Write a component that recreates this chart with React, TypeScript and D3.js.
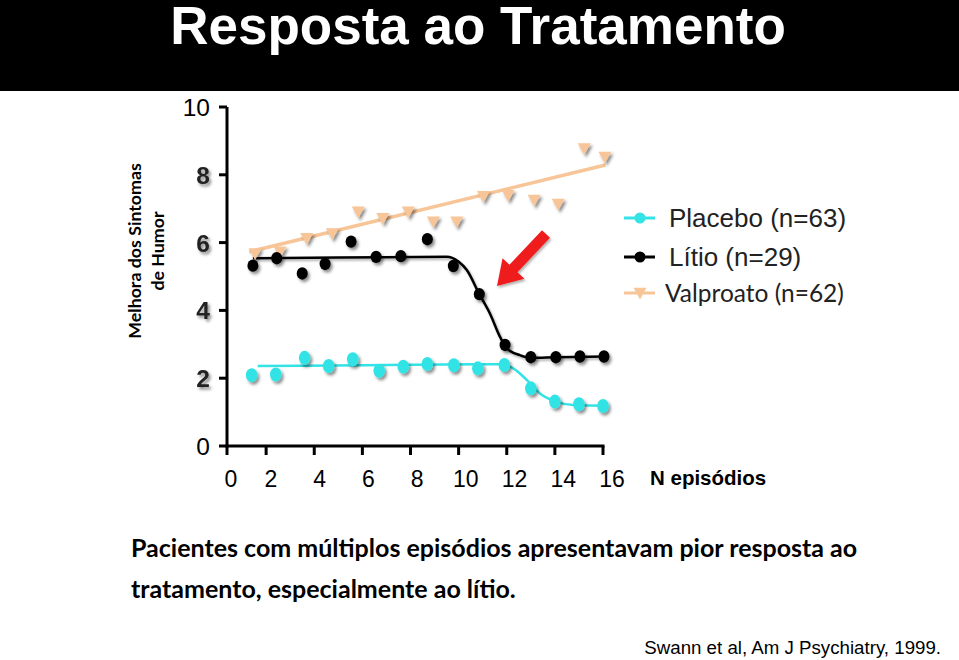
import React from 'react';
import * as d3 from 'd3';

const xTicks = [0, 2, 4, 6, 8, 10, 12, 14, 16];
const yTicks = [0, 2, 4, 6, 8, 10];
const boldYTicks = [2, 4, 6, 8];

const placeboX = [1.4, 2.4, 3.6, 4.6, 5.6, 6.7, 7.7, 8.7, 9.8, 10.8, 11.9, 13.0, 14.0, 15.0, 16.0];
const placeboY = [2.09, 2.11, 2.6, 2.36, 2.56, 2.22, 2.34, 2.42, 2.38, 2.29, 2.39, 1.7, 1.31, 1.23, 1.18];
const lithiumX = [1.45, 2.44, 3.5, 4.45, 5.53, 6.57, 7.6, 8.7, 9.78, 10.86, 11.93, 13.0, 14.04, 15.04, 16.04];
const lithiumY = [5.32, 5.54, 5.09, 5.37, 6.03, 5.58, 5.6, 6.1, 5.31, 4.48, 2.98, 2.62, 2.62, 2.64, 2.64];
const valproateX = [1.54, 2.58, 3.69, 4.75, 5.83, 6.85, 7.91, 8.95, 9.92, 11.03, 12.06, 13.14, 14.14, 15.22, 16.08];
const valproateY = [5.68, 5.73, 6.13, 6.27, 6.91, 6.72, 6.91, 6.62, 6.62, 7.37, 7.4, 7.26, 7.14, 8.78, 8.53];

const placeboFitX = [1.65, 6, 11.0, 11.72, 12.27, 12.83, 13.38, 14.04, 14.77, 16.15];
const placeboFitY = [2.36, 2.38, 2.41, 2.41, 2.29, 1.95, 1.55, 1.31, 1.21, 1.19];
const lithiumFitX = [1.45, 5, 9.5, 9.99, 10.34, 10.86, 11.3, 11.72, 12.0, 12.55, 13.0, 14.04, 16.04];
const lithiumFitY = [5.54, 5.56, 5.58, 5.44, 5.19, 4.48, 3.91, 3.22, 2.88, 2.68, 2.6, 2.62, 2.64];
const valproateFitX = [1.3, 16.1];
const valproateFitY = [5.73, 8.29];

const legendLabels = ['Placebo (n=63)', 'Lítio (n=29)', 'Valproato (n=62)'];
const CYAN = '#33e3e6';
const BLACK = '#000000';
const PEACH = '#f7c597';

export default function App() {
  const W = 959, H = 660;
  const x = d3.scaleLinear().domain([0, 16]).range([218, 603]);
  const xLabel = d3.scaleLinear().domain([2, 16]).range([271, 612]);
  const y = d3.scaleLinear().domain([0, 10]).range([446, 107]);
  const axisX = 227;
  const tickPos = (t: number) => (t === 0 ? axisX : x(t));

  const mk = (xs: number[], ys: number[]) => xs.map((v, i) => [v, ys[i]] as [number, number]);
  const line = d3.line<[number, number]>().x(d => x(d[0])).y(d => y(d[1])).curve(d3.curveMonotoneX);

  const tri = (cx: number, cy: number, s = 6.5) =>
    `M${cx - s},${cy - s * 0.8}L${cx + s},${cy - s * 0.8}L${cx},${cy + s * 1.0}Z`;

  // arrow annotation
  const tail = [546, 234], tip = [497, 286];
  const dx = tip[0] - tail[0], dy = tip[1] - tail[1];
  const L = Math.hypot(dx, dy);
  const ux = dx / L, uy = dy / L, px = -uy, py = ux;
  const headLen = 24, headW = 15, shaftW = 5.5;
  const hb = [tip[0] - ux * headLen, tip[1] - uy * headLen];
  const arrowPts = [
    [tail[0] + px * shaftW, tail[1] + py * shaftW],
    [hb[0] + px * shaftW, hb[1] + py * shaftW],
    [hb[0] + px * headW, hb[1] + py * headW],
    tip,
    [hb[0] - px * headW, hb[1] - py * headW],
    [hb[0] - px * shaftW, hb[1] - py * shaftW],
    [tail[0] - px * shaftW, tail[1] - py * shaftW],
  ];

  const legendY = [218, 257, 293];
  const legendColors = [CYAN, BLACK, PEACH];

  return (
    <svg width={W} height={H} style={{ position: 'absolute', left: 0, top: 0, background: '#fff' }}
      fontFamily="'Liberation Sans', Arial, sans-serif">
      <defs>
        <filter id="sh" x="-50%" y="-50%" width="200%" height="200%">
          <feDropShadow dx="2" dy="2.5" stdDeviation="1.5" floodColor="#000" floodOpacity="0.45" />
        </filter>
        <filter id="shl" x="-10%" y="-10%" width="120%" height="140%">
          <feDropShadow dx="1.5" dy="2" stdDeviation="1.2" floodColor="#000" floodOpacity="0.3" />
        </filter>
      </defs>
      <rect x={0} y={0} width={W} height={91} fill="#000" />
      <text x={478} y={44} textAnchor="middle" fill="#fff" fontSize={53} fontWeight="bold">
        Resposta ao Tratamento
      </text>

      {/* y axis label */}
      <g fontFamily="Lato, 'Open Sans', sans-serif" fontWeight="bold" fontSize={17.8} fill="#000" textAnchor="middle">
        <text transform={`translate(141,251) rotate(-90)`}>Melhora dos Sintomas</text>
        <text transform={`translate(164,251) rotate(-90)`}>de Humor</text>
      </g>

      {/* axes */}
      <line x1={axisX} x2={axisX} y1={y(10)} y2={y(0) + 1.5} stroke="#000" strokeWidth={3} />
      <line x1={axisX - 1.5} x2={x(16) + 1.5} y1={y(0)} y2={y(0)} stroke="#000" strokeWidth={3} />
      {yTicks.map(t => (
        <g key={'yt' + t}>
          <line x1={axisX - 8} x2={axisX} y1={y(t)} y2={y(t)} stroke="#000" strokeWidth={3} />
          <text x={axisX - 17} y={y(t) + 9} textAnchor="end" fontSize={24.5}
            fontWeight={boldYTicks.includes(t) ? 'bold' : 'normal'}
            filter={boldYTicks.includes(t) ? 'url(#sh)' : undefined}
            fill={boldYTicks.includes(t) ? '#222' : '#000'}>{t}</text>
        </g>
      ))}
      {xTicks.map(t => (
        <g key={'xt' + t}>
          <line x1={tickPos(t)} x2={tickPos(t)} y1={y(0)} y2={y(0) + 9} stroke="#000" strokeWidth={3} />
          <text x={t === 0 ? axisX + 4 : xLabel(t)} y={487} textAnchor="middle" fontSize={23}>{t}</text>
        </g>
      ))}
      <text x={650} y={485} fontSize={20.5} fontWeight="bold">N episódios</text>

      {/* fits */}
      <path d={line(mk(valproateFitX, valproateFitY)) || ''} fill="none" stroke={PEACH} strokeWidth={3.5} />
      <path d={line(mk(lithiumFitX, lithiumFitY)) || ''} fill="none" stroke={BLACK} strokeWidth={2.5} filter="url(#shl)" />
      <path d={line(mk(placeboFitX, placeboFitY)) || ''} fill="none" stroke={CYAN} strokeWidth={2.5} />

      {/* points */}
      <g filter="url(#sh)">
        {valproateX.map((v, i) => (
          <path key={'v' + i} d={tri(x(v), y(valproateY[i]))} fill={PEACH} />
        ))}
        {lithiumX.map((v, i) => (
          <ellipse key={'l' + i} cx={x(v)} cy={y(lithiumY[i])} rx={5.5} ry={6.2} fill={BLACK} />
        ))}
        {placeboX.map((v, i) => (
          <ellipse key={'p' + i} cx={x(v)} cy={y(placeboY[i])} rx={5.8} ry={7} fill={CYAN} />
        ))}
      </g>

      {/* arrow */}
      <polygon points={arrowPts.map(p => p.join(',')).join(' ')} fill="#ee1c1c" filter="url(#shl)" />

      {/* legend */}
      {legendLabels.map((lab, i) => (
        <g key={'lg' + i}>
          <line x1={624} x2={655} y1={legendY[i]} y2={legendY[i]} stroke={legendColors[i]} strokeWidth={3} />
          {i === 2
            ? <path d={tri(640, legendY[i])} fill={PEACH} />
            : <circle cx={640} cy={legendY[i]} r={5.5} fill={legendColors[i]} />}
          <text x={i === 2 ? 665 : 669} y={legendY[i] + 9} fontSize={i === 2 ? 24.5 : 26} fill="#222"
            fontFamily={i === 2 ? "Lato, 'Open Sans', sans-serif" : "'Liberation Sans', Arial, sans-serif"}>{lab}</text>
        </g>
      ))}

      {/* bottom text */}
      <g fontFamily="Lato, 'Open Sans', sans-serif" fontWeight="bold" fontSize={25} fill="#000">
        <text x={131} y={557}>Pacientes com múltiplos episódios apresentavam pior resposta ao</text>
        <text x={131} y={598}>tratamento, especialmente ao lítio.</text>
      </g>
      <text x={941} y={654} textAnchor="end" fontSize={18.7} fill="#000">Swann et al, Am J Psychiatry, 1999.</text>
    </svg>
  );
}
